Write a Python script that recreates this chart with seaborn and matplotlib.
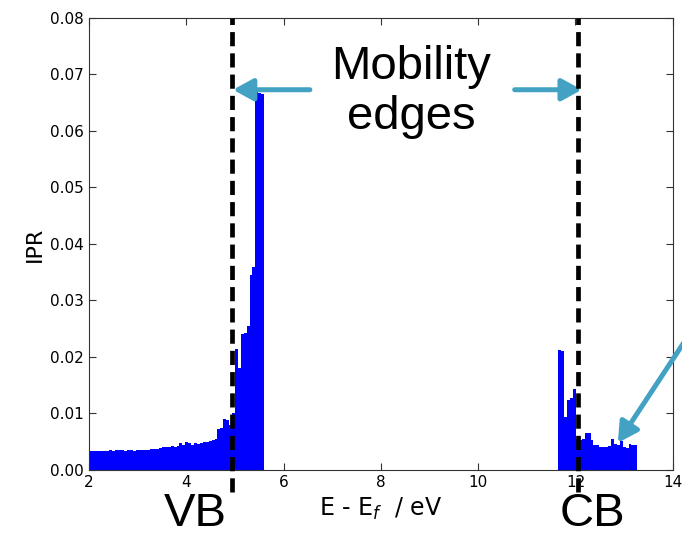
import seaborn as sns
import matplotlib.pyplot as plt
import pandas as pd
import numpy as np

# IPR histogram, valence band side (bins of 0.06 eV starting at 2.0 eV)
vb_start = 2.0
vb_ipr = [0.0034, 0.0033, 0.0034, 0.0033, 0.0034, 0.0033,
          0.0034, 0.0035, 0.0034, 0.0035, 0.0036, 0.0035,
          0.0034, 0.0036, 0.0035, 0.0034, 0.0035, 0.0036,
          0.0035, 0.0036, 0.0036, 0.0037, 0.0038, 0.0038,
          0.0039, 0.0041, 0.0041, 0.0040, 0.0042, 0.0041,
          0.0043, 0.0048, 0.0044, 0.0050, 0.0047, 0.0044,
          0.0048, 0.0046, 0.0047, 0.0049, 0.0050, 0.0052,
          0.0053, 0.0055, 0.0073, 0.0074, 0.0090, 0.0089,
          0.0080, 0.0100, 0.0215, 0.0180, 0.0240, 0.0243,
          0.0255, 0.0345, 0.0360, 0.0670, 0.0668, 0.0665]

# conduction band side
cb_start = 11.65
cb_ipr = [0.0213, 0.0210, 0.0094, 0.0124, 0.0127, 0.0143,
          0.0055, 0.0053, 0.0054, 0.0066, 0.0065, 0.0053,
          0.0044, 0.0044, 0.0040, 0.0040, 0.0041, 0.0043,
          0.0055, 0.0046, 0.0045, 0.0052, 0.0040, 0.0039,
          0.0046, 0.0045, 0.0044]

bin_w = 0.06
edges_pos = [4.94, 12.06]   # mobility edges
xticks = [2, 4, 6, 8, 10, 12, 14]
yticks = [0.00, 0.01, 0.02, 0.03, 0.04, 0.05, 0.06, 0.07, 0.08]

sns.set_style("ticks")
plt.rcParams['font.family'] = ['DejaVu Sans']
plt.rcParams['xtick.direction'] = 'in'
plt.rcParams['ytick.direction'] = 'in'
plt.rcParams['text.color'] = 'black'
plt.rcParams['axes.labelcolor'] = 'black'
plt.rcParams['xtick.labelcolor'] = 'black'
plt.rcParams['ytick.labelcolor'] = 'black'

fig = plt.figure(figsize=(6.82, 5.37), dpi=100)
ax = fig.add_axes([0.1305, 0.1248, 0.856, 0.8417])

vb = pd.DataFrame({"E": vb_start + bin_w * (np.arange(len(vb_ipr)) + 0.5),
                   "IPR": vb_ipr})
cb = pd.DataFrame({"E": cb_start + bin_w * (np.arange(len(cb_ipr)) + 0.5),
                   "IPR": cb_ipr})

sns.histplot(data=vb, x="E", weights="IPR", binwidth=bin_w,
             binrange=(vb_start, vb_start + bin_w * len(vb_ipr)),
             color="blue", alpha=1, linewidth=0, ax=ax)
sns.histplot(data=cb, x="E", weights="IPR", binwidth=bin_w,
             binrange=(cb_start, cb_start + bin_w * len(cb_ipr)),
             color="blue", alpha=1, linewidth=0, ax=ax)

for xe in edges_pos:
    ax.axvline(xe, ymin=-0.048, ymax=1, color="black", lw=3.4,
               linestyle=(0, (3, 1.5)), clip_on=False, zorder=5)

ax.set_xlim(2, 14)
ax.set_ylim(0, 0.08)
ax.set_xticks(xticks)
ax.set_yticks(yticks)
ax.set_yticklabels(["%.2f" % v for v in yticks])
ax.tick_params(top=True, right=True, labelsize=11, length=5, color="#333333")
for s in ax.spines.values():
    s.set_color("#333333")
ax.set_xlabel("E - E$_f$  / eV", fontsize=17)
ax.set_ylabel("IPR", fontsize=16)

arrow_c = "#43a1c4"
akw = dict(arrowstyle="-|>,head_length=0.6,head_width=0.33", color=arrow_c,
           lw=3.6, mutation_scale=20, shrinkA=0, shrinkB=0)
ax.annotate("", xy=(4.96, 0.0673), xytext=(6.54, 0.0673), arrowprops=akw)
ax.annotate("", xy=(12.13, 0.0673), xytext=(10.75, 0.0673), arrowprops=akw)
ax.annotate("", xy=(12.87, 0.0048), xytext=(14.3, 0.0235), arrowprops=akw,
            annotation_clip=False)

big = ['Liberation Sans', 'DejaVu Sans']
fig.text(411 / 682, 1 - 92 / 537, "Mobility\nedges", ha="center", va="center",
         fontsize=34, family=big, linespacing=1.2)
fig.text(195 / 682, 1 - 514 / 537, "VB", ha="center", va="center",
         fontsize=34, family=big)
fig.text(592 / 682, 1 - 514 / 537, "CB", ha="center", va="center",
         fontsize=34, family=big)

fig.savefig("out.png", dpi=100)
